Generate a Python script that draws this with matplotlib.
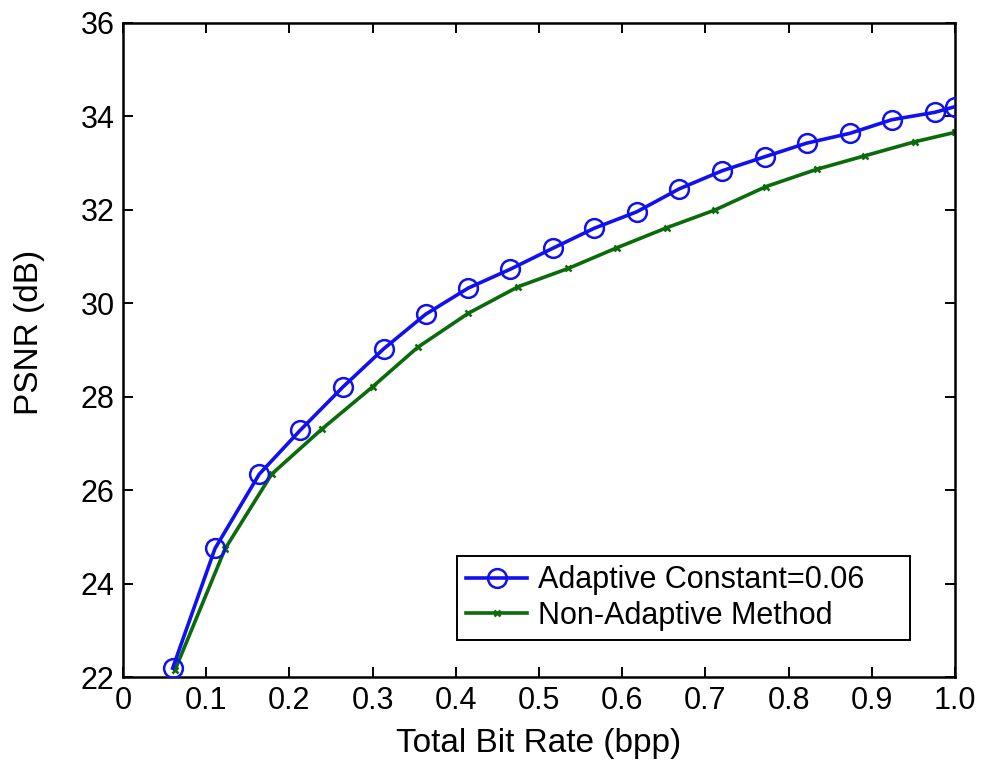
import matplotlib
matplotlib.use("Agg")
import matplotlib.pyplot as plt

plt.rcParams['font.family'] = ['Liberation Sans', 'DejaVu Sans']

adaptive_x = [0.0597, 0.1106, 0.1638, 0.2131, 0.2641, 0.3133, 0.3638, 0.415, 0.4651, 0.5165,
              0.5665, 0.6174, 0.6683, 0.7203, 0.7716, 0.8218, 0.8738, 0.9239, 0.9760, 1.0]
adaptive_y = [22.20, 24.76, 26.35, 27.29, 28.21, 29.03, 29.77, 30.33, 30.73, 31.18,
              31.61, 31.96, 32.45, 32.84, 33.14, 33.43, 33.64, 33.93, 34.09, 34.21]

nonadaptive_x = [0.0625, 0.1226, 0.1787, 0.2388, 0.3001, 0.354, 0.415, 0.4751, 0.5352,
                 0.5934, 0.6535, 0.7115, 0.7728, 0.8338, 0.8918, 0.9519, 1.0]
nonadaptive_y = [22.16, 24.75, 26.35, 27.31, 28.22, 29.06, 29.79, 30.36, 30.75,
                 31.19, 31.62, 32.00, 32.50, 32.87, 33.16, 33.46, 33.66]

xticks = [0, 0.1, 0.2, 0.3, 0.4, 0.5, 0.6, 0.7, 0.8, 0.9, 1.0]
xticklabels = ['0', '0.1', '0.2', '0.3', '0.4', '0.5', '0.6', '0.7', '0.8', '0.9', '1.0']
yticks = [22, 24, 26, 28, 30, 32, 34, 36]

fig = plt.figure(figsize=(9.84, 7.79), dpi=100)
ax = fig.add_axes([0.125, 0.1303, 0.8455, 0.8402])

ax.plot(adaptive_x, adaptive_y, color='#1010f0', lw=2.6, marker='o', markersize=13.5,
        markerfacecolor='none', markeredgewidth=1.8, label='Adaptive Constant=0.06', zorder=3)
ax.plot(nonadaptive_x, nonadaptive_y, color='#0b6b0b', lw=2.6, marker='x', markersize=5,
        markeredgewidth=1.8, label='Non-Adaptive Method', zorder=2)

ax.set_xlim(0, 1.0)
ax.set_ylim(22, 36)
ax.set_xticks(xticks)
ax.set_xticklabels(xticklabels)
ax.set_yticks(yticks)
ax.tick_params(direction='in', top=True, right=True, labelsize=22, length=7, width=1.4, pad=6)
for s in ax.spines.values():
    s.set_linewidth(1.8)

ax.set_xlabel('Total Bit Rate (bpp)', fontsize=24, labelpad=9)
ax.set_ylabel('PSNR (dB)', fontsize=24)
ax.yaxis.set_label_coords(-0.094, 0.528)

leg = ax.legend(loc='lower left', bbox_to_anchor=(0.4014, 0.0573, 0.5445, 0.128), mode='expand',
                fontsize=22, frameon=True, fancybox=False, edgecolor='black', framealpha=1,
                handlelength=2.0, borderpad=0.3, labelspacing=0.18, handletextpad=0.35,
                borderaxespad=0)
leg.get_frame().set_linewidth(1.4)

fig.savefig('out.png', dpi=100)
